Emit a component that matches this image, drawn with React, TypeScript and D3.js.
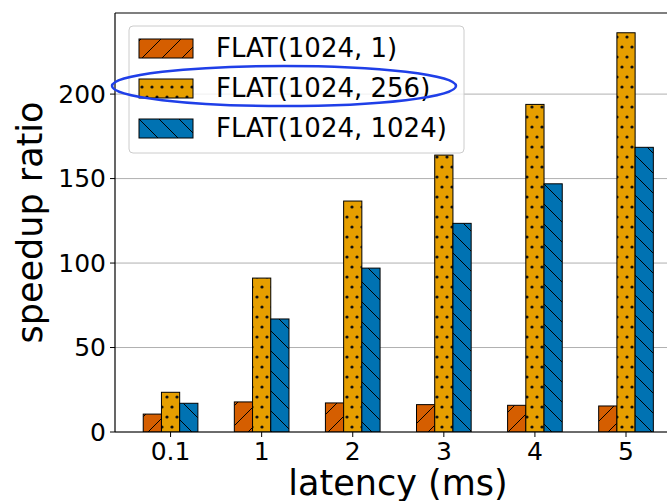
import React from "react";
import * as d3 from "d3";

const categories = ["0.1", "1", "2", "3", "4", "5"];
const seriesNames = ["FLAT(1024, 1)", "FLAT(1024, 256)", "FLAT(1024, 1024)"];
const flat1 = [10.6, 17.8, 17.2, 16.2, 15.8, 15.4];
const flat256 = [23.5, 91.1, 136.7, 163.9, 193.9, 236.3];
const flat1024 = [17, 66.9, 97, 123.5, 146.9, 168.5];
const yTicks = [0, 50, 100, 150, 200];

const colors = ["#D55E00", "#E69F00", "#0072B2"];
const hatchIds = ["hatch-fwd", "hatch-dot", "hatch-back"];

const W = 667,
  H = 501;
const left = 115,
  right = 667,
  top = 13,
  bottom = 432;
const font = "DejaVu Sans, sans-serif";

const App = () => {
  const series = [flat1, flat256, flat1024];

  const x = d3.scaleLinear().domain([-0.61, 5.45]).range([left, right]);
  const y = d3.scaleLinear().domain([0, 248]).range([bottom, top]);
  const barW = x(0.2) - x(0);

  return (
    <svg width={W} height={H} style={{ position: "absolute", left: 0, top: 0 }}>
      <defs>
        <clipPath id="plot-clip">
          <rect x={left} y={top} width={right - left} height={bottom - top} />
        </clipPath>
        <pattern id="hatch-fwd" patternUnits="userSpaceOnUse" width={20} height={20}>
          <rect width={20} height={20} fill={colors[0]} />
          <path d="M0,20 L20,0 M-5,5 L5,-5 M15,25 L25,15" stroke="#000" strokeWidth={1} />
        </pattern>
        <pattern id="hatch-dot" patternUnits="userSpaceOnUse" width={10} height={20}>
          <rect width={10} height={20} fill={colors[1]} />
          <circle cx={2} cy={7} r={1.6} fill="#111" />
          <circle cx={7} cy={17} r={1.6} fill="#111" />
        </pattern>
        <pattern id="hatch-back" patternUnits="userSpaceOnUse" width={20} height={20}>
          <rect width={20} height={20} fill={colors[2]} />
          <path d="M0,0 L20,20 M-5,15 L5,25 M15,-5 L25,5" stroke="#000" strokeWidth={1} />
        </pattern>
      </defs>

      {/* grid */}
      {yTicks.map((t) => (
        <line key={"g" + t} x1={left} x2={right} y1={y(t)} y2={y(t)} stroke="#b0b0b0" strokeWidth={1} />
      ))}

      {/* bars */}
      <g clipPath="url(#plot-clip)">
        {series.map((vals, si) =>
          vals.map((v, i) => {
            const cx = x(i + (si - 1) * 0.2);
            return (
              <rect
                key={si + "-" + i}
                x={cx - barW / 2}
                y={y(v)}
                width={barW}
                height={y(0) - y(v)}
                fill={`url(#${hatchIds[si]})`}
                stroke="#000"
                strokeWidth={1}
              />
            );
          })
        )}
      </g>

      {/* spines */}
      <line x1={left} x2={left} y1={top} y2={bottom} stroke="#000" strokeWidth={1.2} />
      <line x1={left} x2={right} y1={top} y2={top} stroke="#000" strokeWidth={1.2} />
      <line x1={left} x2={right} y1={bottom} y2={bottom} stroke="#000" strokeWidth={1.2} />

      {/* y axis */}
      {yTicks.map((t) => (
        <g key={"y" + t}>
          <line x1={left - 5} x2={left} y1={y(t)} y2={y(t)} stroke="#000" strokeWidth={1} />
          <text
            x={left - 9}
            y={y(t)}
            textAnchor="end"
            dominantBaseline="central"
            fontFamily={font}
            fontSize={25}
            fill="#000"
          >
            {t}
          </text>
        </g>
      ))}

      {/* x axis */}
      {categories.map((c, i) => (
        <g key={"x" + c}>
          <line x1={x(i)} x2={x(i)} y1={bottom} y2={bottom + 5} stroke="#000" strokeWidth={1} />
          <text x={x(i)} y={460} textAnchor="middle" fontFamily={font} fontSize={25} fill="#000">
            {c}
          </text>
        </g>
      ))}

      <text x={398} y={495} textAnchor="middle" fontFamily={font} fontSize={35} fill="#000">
        latency (ms)
      </text>
      <text
        transform={`translate(42, ${(top + bottom) / 2}) rotate(-90)`}
        textAnchor="middle"
        fontFamily={font}
        fontSize={35}
        fill="#000"
      >
        speedup ratio
      </text>

      {/* legend */}
      <rect x={129} y={26} width={335} height={127} rx={4} fill="#fff" fillOpacity={0.8} stroke="#ccc" strokeWidth={1} />
      {seriesNames.map((name, si) => (
        <g key={name} transform={`translate(0, ${si * 40})`}>
          <rect x={139} y={39} width={54} height={19} fill={`url(#${hatchIds[si]})`} stroke="#000" strokeWidth={1} />
          <text x={216} y={57} fontFamily={font} fontSize={26} fill="#000">
            {name}
          </text>
        </g>
      ))}

      {/* highlight */}
      <ellipse cx={284} cy={86} rx={172} ry={20} fill="none" stroke="#1f3fe8" strokeWidth={2.5} />
    </svg>
  );
};

export default App;
